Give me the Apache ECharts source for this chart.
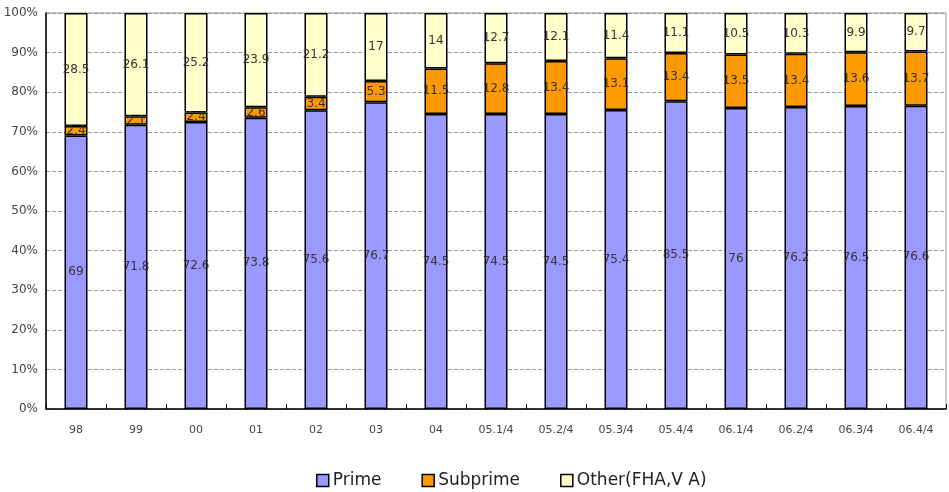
<!DOCTYPE html>
<html>
<head>
<meta charset="utf-8">
<script src="https://cdn.jsdelivr.net/npm/echarts@6/dist/echarts.min.js"></script>
<style>
  html, body { margin: 0; padding: 0; background: #fff; }
  #chart { width: 949px; height: 492px; }
</style>
</head>
<body>
<div id="chart"></div>
<script>
// Mortgage origination mix by period (raw shares; each bar is drawn as a 100% stack)
const categories = ['98', '99', '00', '01', '02', '03', '04', '05.1/4', '05.2/4', '05.3/4', '05.4/4', '06.1/4', '06.2/4', '06.3/4', '06.4/4'];
const prime     = [69, 71.8, 72.6, 73.8, 75.6, 76.7, 74.5, 74.5, 74.5, 75.4, 85.5, 76, 76.2, 76.5, 76.6];
const subprime  = [2.4, 2.1, 2.4, 2.6, 3.4, 5.3, 11.5, 12.8, 13.4, 13.1, 13.4, 13.5, 13.4, 13.6, 13.7];
const other     = [28.5, 26.1, 25.2, 23.9, 21.2, 17, 14, 12.7, 12.1, 11.4, 11.1, 10.5, 10.3, 9.9, 9.7];
const yTicks    = [0, 10, 20, 30, 40, 50, 60, 70, 80, 90, 100];

const seriesDefs = [
  { name: 'Prime', values: prime, color: '#9999ff' },
  { name: 'Subprime', values: subprime, color: '#ff9900' },
  { name: 'Other(FHA,V A)', values: other, color: '#ffffcc' }
];

// normalise each category to 100%
const totals = categories.map((_, i) => prime[i] + subprime[i] + other[i]);

const chart = echarts.init(document.getElementById('chart'));
chart.setOption({
  animation: false,
  textStyle: { fontFamily: '"DejaVu Sans", "Noto Sans", sans-serif' },
  grid: {
    left: 46, right: 3, top: 13, bottom: 83,
    show: true, borderColor: '#999', borderWidth: 1, backgroundColor: 'transparent'
  },
  legend: {
    bottom: -2, left: 311,
    itemWidth: 12, itemHeight: 12, itemGap: 40,
    icon: 'rect',
    textStyle: { fontSize: 17, color: '#222', padding: [0, 0, 0, -1] },
    data: seriesDefs.map(s => ({
      name: s.name,
      itemStyle: { color: s.color, borderColor: '#000', borderWidth: 1.5 }
    }))
  },
  xAxis: {
    type: 'category',
    data: categories,
    axisLine: { lineStyle: { color: '#000', width: 1.5 } },
    axisTick: { show: true, inside: true, length: 5, lineStyle: { color: '#000' } },
    axisLabel: { fontSize: 11, color: '#444', margin: 16 }
  },
  yAxis: {
    type: 'value',
    min: yTicks[0], max: yTicks[yTicks.length - 1], interval: 10,
    axisLine: { show: true, lineStyle: { color: '#000', width: 1.5 } },
    axisTick: { show: false },
    axisLabel: { fontSize: 12, color: '#444', margin: 8, formatter: v => v + '%' },
    splitLine: { show: true, lineStyle: { color: '#999', type: 'dashed', width: 1 } }
  },
  series: seriesDefs.map(s => ({
    name: s.name,
    type: 'bar',
    stack: 'share',
    barWidth: 23,
    itemStyle: { color: s.color, borderColor: '#000', borderWidth: 1.5 },
    label: {
      show: true, position: 'inside',
      fontSize: 12, color: '#333',
      formatter: p => String(s.values[p.dataIndex])
    },
    data: s.values.map((v, i) => v / totals[i] * 100)
  }))
});
</script>
</body>
</html>
